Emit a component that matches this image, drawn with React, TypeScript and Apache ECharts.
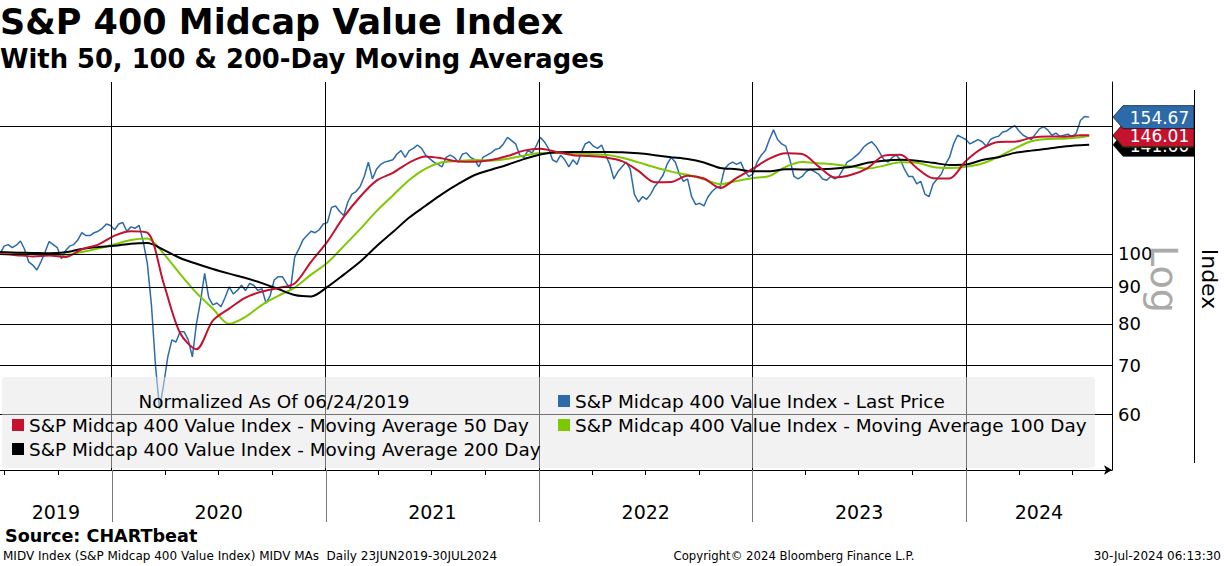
import React, { useEffect, useRef } from "react";
import * as echarts from "echarts";

const FONT = '"DejaVu Sans", Verdana, sans-serif';
const BLUE = "#2c6aa9";
const RED = "#c4122f";
const GREEN = "#7dc900";
const BLACK = "#000000";
const DAY = 86400000;

const START = Date.UTC(2019, 5, 24);
const LAST = Date.UTC(2024, 6, 30);
const AXIS_END = Date.UTC(2024, 8, 7);
const Y_MIN = 50.2;
const Y_MAX = 173;

const SERIES_NAMES = [
  "S&P Midcap 400 Value Index - Last Price",
  "S&P Midcap 400 Value Index - Moving Average 50 Day",
  "S&P Midcap 400 Value Index - Moving Average 100 Day",
  "S&P Midcap 400 Value Index - Moving Average 200 Day",
];

const YEAR_LABELS = ["2019", "2020", "2021", "2022", "2023", "2024"];
const Y_TICKS = [60, 70, 80, 90, 100, 150];

// weekly closes (every 7 days from 24-Jun-2019), last = 30-Jul-2024
const PRICE = [
  100, 102.5, 103, 102, 102.8, 104.2, 101.5, 97.5, 96.5, 95,
  97.5, 100.5, 104, 103, 102, 98.5, 101, 102.5, 103, 104.5,
  107, 106, 106, 107, 107.5, 108.5, 110, 109.5, 108, 110,
  110.5, 107.5, 109, 108.5, 109.5, 104, 97, 85, 70, 61,
  66, 72, 76, 75.5, 78, 78, 76, 72, 80, 86,
  94, 87, 85, 85.5, 84.5, 87, 90, 88, 89, 90.5,
  89, 91, 90.5, 89, 89.5, 85.5, 87.5, 92, 93, 93,
  91, 89.5, 99, 101.5, 104.5, 106, 107.5, 107, 108, 110,
  110.5, 116, 116.5, 114.5, 113, 118, 121, 122, 124, 128,
  134, 127, 131, 133, 134, 134.5, 135, 137.5, 139, 136,
  139, 140, 141.5, 140, 137, 135.5, 134, 133, 132, 136,
  137, 136, 134, 137.5, 138, 136, 135, 132, 136, 137,
  138, 139.5, 140, 142, 145, 143.5, 142, 137, 136, 139,
  138, 141, 145, 143, 140, 135, 134, 137, 135, 132,
  135, 133, 138, 142, 143, 141, 140, 141.5, 137, 133,
  127, 130, 132, 134, 131, 121, 118, 120, 119, 121,
  124, 126, 128.5, 133, 136, 134, 129, 126, 127, 120,
  117, 117.5, 116.5, 120, 122, 123.5, 124, 131, 133, 134,
  133, 134, 130, 128, 129, 134, 137, 139, 144, 148.5,
  144, 142, 141, 135, 128, 127, 128, 130, 131, 130,
  129, 127, 126.5, 128, 127, 128, 131, 134, 135, 136.5,
  138, 140.5, 142, 143, 141, 138, 135, 134, 136, 137,
  135, 131, 128, 128, 125, 126, 121, 120, 125, 127,
  129, 133, 136, 142, 146, 145, 144, 142, 143, 144,
  143, 141, 144, 145, 145.5, 147.5, 148, 149.5, 150.5, 148,
  146, 145, 144, 146.5, 149, 150, 148.5, 146, 147, 145.5,
  146, 146.5, 145, 147, 153, 155, 154.67,
];

// moving averages sampled every 28 days from 24-Jun-2019, last = 30-Jul-2024
const MA50 = [
  100, 99.6, 99.2, 99.5, 99, 101.5, 103, 106, 107.5, 107,
  91, 77.7, 73.8, 80.8, 84, 87, 88.7, 89.7, 91, 97.5,
  104, 112.5, 120, 126.3, 129.5, 133.8, 136.4, 135.6, 134.3, 134.2,
  134.9, 136.6, 139, 139.8, 138.4, 137, 136.6, 136, 134.4, 130.3,
  125.7, 125.8, 128.3, 127.2, 123.4, 127.4, 131.2, 135.5, 137.8, 137.5,
  132.2, 127.6, 128.7, 131.5, 136.8, 137.2, 131.5, 127.3, 127.2, 134.5,
  140, 142.9, 143, 144.8, 145.4, 145.3, 146, 146.01,
];
const MA100 = [
  100.5, 100.4, 100.2, 99.7, 99.7, 100.6, 101.7, 103.1, 104.5, 105,
  100, 93.8, 88.3, 84, 80, 81.8, 85, 87.5, 89.8, 93.6,
  97.2, 102.5, 108.2, 114.6, 120.5, 126.6, 131.2, 133.9, 134.5, 134.9,
  134.6, 135.4, 136.8, 138, 138, 137.7, 137.5, 137.2, 135.9, 133.9,
  131.8, 130, 128.7, 126.9, 124.9, 126.2, 127.4, 128.2, 132, 134,
  133.5, 133, 132.1, 131.3, 132.5, 133.9, 133.7, 131.9, 131.5, 132,
  133.4, 136.3, 140, 143.2, 144.3, 144.4, 145.1, 145.6,
];
const MA200 = [
  100.6, 100.4, 100.3, 100.2, 100.5, 101.6, 102.2, 102.6, 103.3, 103.5,
  101.3, 98.7, 96.9, 95.3, 93.9, 92.6, 91.1, 89.4, 87.7, 87.3,
  90, 93.6, 97.5, 102.5, 107.2, 112.3, 116.6, 121, 125, 128.6,
  130.8, 132.9, 135.3, 137.3, 138.3, 138.4, 138.4, 138.4, 138.3, 137.8,
  137, 136.1, 135.3, 133.8, 131.5, 131, 130.1, 130.1, 131, 130.9,
  131, 131.3, 132, 133.7, 134.6, 135, 134.6, 133.7, 132.8, 133,
  134.9, 136.1, 138, 139, 139.8, 140.8, 141.4, 141.6,
];

const weekDate = (k: number) => (k === PRICE.length - 1 ? LAST : START + 7 * k * DAY);
const maDate = (i: number, n: number) => (i === n - 1 ? LAST : START + 28 * i * DAY);

const YEAR_STARTS = [2020, 2021, 2022, 2023, 2024].map((y) => Date.UTC(y, 0, 1));
const QUARTERS: number[] = [];
for (let y = 2019; y <= 2024; y++) {
  for (const m of [3, 6, 9]) {
    const t = Date.UTC(y, m, 1);
    if (t > START && t < AXIS_END) QUARTERS.push(t);
  }
}

function baseOption(): any {
  const lineCommon = {
    type: "line",
    showSymbol: false,
    symbol: "none",
    silent: true,
  };
  return {
    animation: false,
    backgroundColor: "#ffffff",
    grid: { left: 0, right: 112, top: 82, bottom: 96, containLabel: false },
    xAxis: {
      type: "time",
      min: START,
      max: AXIS_END,
      axisLine: {
        show: true,
        lineStyle: { color: "#000", width: 1 },
        symbol: ["none", "arrow"],
        symbolSize: [7, 8],
      },
      axisTick: { show: false },
      axisLabel: { show: false },
      splitLine: { show: false },
    },
    yAxis: {
      type: "log",
      logBase: 10,
      min: Y_MIN,
      max: Y_MAX,
      position: "right",
      axisLine: { show: true, lineStyle: { color: "#000", width: 1 } },
      axisTick: { show: false },
      axisLabel: { show: false },
      splitLine: { show: false },
    },
    legend: [
      { data: [SERIES_NAMES[0]], left: 558, top: 391 },
      { data: [SERIES_NAMES[1]], left: 12, top: 415 },
      { data: [SERIES_NAMES[2]], left: 558, top: 415 },
      { data: [SERIES_NAMES[3]], left: 12, top: 439 },
    ].map((l) => ({
      ...l,
      orient: "horizontal",
      padding: 0,
      itemWidth: 12,
      itemHeight: 12,
      icon: "rect",
      selectedMode: false,
      z: 20,
      textStyle: { fontFamily: FONT, fontSize: 18.4, color: "#000", lineHeight: 20 },
    })),
    series: [
      {
        ...lineCommon,
        name: SERIES_NAMES[0],
        color: BLUE,
        z: 2,
        lineStyle: { color: BLUE, width: 1.5 },
        data: PRICE.map((v, k) => [weekDate(k), v]),
        markLine: {
          silent: true,
          animation: false,
          symbol: ["none", "arrow"],
          symbolSize: [0, 8],
          lineStyle: { color: "#000", width: 1, type: "solid" },
          label: {
            show: true,
            position: "end",
            formatter: "{c}",
            color: "#000",
            fontFamily: FONT,
            fontSize: 18,
            distance: 6,
          },
          emphasis: { disabled: true },
          data: Y_TICKS.map((v) => ({ yAxis: v, label: { show: v !== 150 } })),
        },
      },
      {
        ...lineCommon,
        name: SERIES_NAMES[1],
        color: RED,
        z: 4,
        smooth: 0.3,
        lineStyle: { color: RED, width: 2 },
        data: MA50.map((v, i) => [maDate(i, MA50.length), v]),
      },
      {
        ...lineCommon,
        name: SERIES_NAMES[2],
        color: GREEN,
        z: 3,
        smooth: 0.3,
        lineStyle: { color: GREEN, width: 2 },
        data: MA100.map((v, i) => [maDate(i, MA100.length), v]),
      },
      {
        ...lineCommon,
        name: SERIES_NAMES[3],
        color: BLACK,
        z: 3,
        smooth: 0.3,
        lineStyle: { color: BLACK, width: 2 },
        data: MA200.map((v, i) => [maDate(i, MA200.length), v]),
        markLine: {
          silent: true,
          animation: false,
          symbol: "none",
          lineStyle: { color: "#000", width: 1, type: "solid" },
          label: { show: false },
          emphasis: { disabled: true },
          data: YEAR_STARTS.map((t) => ({ xAxis: t })),
        },
      },
    ],
  };
}

function txt(text: string, x: number, y: number, size: number, opts: any = {}): any {
  const align = opts.align || "left";
  return {
    type: "text",
    x: opts.gx || 0,
    y: opts.gy || 0,
    rotation: opts.rotation || 0,
    z: opts.z || 30,
    silent: true,
    style: {
      text,
      x,
      y,
      fill: opts.fill || "#000",
      fontFamily: FONT,
      fontSize: size,
      fontWeight: opts.bold ? "bold" : "normal",
      align,
      textAlign: align,
      verticalAlign: "middle",
      textVerticalAlign: "middle",
    },
  };
}

function buildGraphic(chart: any): any[] {
  const px = (t: number) => chart.convertToPixel({ xAxisIndex: 0 }, t) as number;
  const py = (v: number) => chart.convertToPixel({ yAxisIndex: 0 }, v) as number;
  const crisp = (v: number) => Math.round(v) + 0.5;
  const xR = px(AXIS_END);
  const yB = py(Y_MIN);
  const els: any[] = [];

  // titles
  els.push(txt("S&P 400 Midcap Value Index", 0, 22, 35, { bold: true }));
  els.push(txt("With 50, 100 & 200-Day Moving Averages", 0, 59, 25.8, { bold: true }));

  // legend box
  els.push({
    type: "rect",
    z: 10,
    silent: true,
    shape: { x: 2, y: 377, width: 1093, height: 91, r: 3 },
    style: { fill: "rgba(229,229,229,0.5)" },
  });
  els.push(txt("Normalized As Of 06/24/2019", 274, 401, 18.4, { align: "center" }));

  // year separators and quarter ticks below the axis
  YEAR_STARTS.forEach((t) => {
    const x = crisp(px(t));
    els.push({
      type: "line",
      z: 5,
      silent: true,
      shape: { x1: x, y1: yB, x2: x, y2: yB + 52 },
      style: { stroke: "#777", lineWidth: 1 },
    });
  });
  QUARTERS.forEach((t) => {
    const x = crisp(px(t));
    els.push({
      type: "line",
      z: 5,
      silent: true,
      shape: { x1: x, y1: yB, x2: x, y2: yB + 5 },
      style: { stroke: "#000", lineWidth: 1 },
    });
  });
  const bounds = [START, ...YEAR_STARTS, AXIS_END];
  YEAR_LABELS.forEach((lab, i) => {
    const mid = (px(bounds[i]) + px(bounds[i + 1])) / 2;
    els.push(txt(lab, mid, yB + 42, 19, { align: "center" }));
  });

  // secondary right line, labels
  els.push({
    type: "line",
    z: 5,
    silent: true,
    shape: { x1: 1194.5, y1: 90, x2: 1194.5, y2: 463 },
    style: { stroke: "#000", lineWidth: 1 },
  });
  els.push(txt("Log", 0, 0, 38, { align: "center", fill: "#aaaaaa", gx: 1164, gy: 279, rotation: -Math.PI / 2, z: 6 }));
  els.push(txt("Index", 0, 0, 22, { align: "center", gx: 1209, gy: 279, rotation: -Math.PI / 2 }));

  // last-value boxes (bottom to top); the 100-day label is fully hidden in the reference
  const boxes = [
    { v: MA200[MA200.length - 1], c: BLACK, label: true },
    { v: MA100[MA100.length - 1], c: GREEN, label: false },
    { v: MA50[MA50.length - 1], c: RED, label: true },
    { v: PRICE[PRICE.length - 1], c: BLUE, label: true },
  ];
  const xa = xR + 1;
  const xb = 1194;
  const h = 11.5;
  boxes.forEach((b, i) => {
    const cy = py(b.v);
    els.push({
      type: "polygon",
      z: 40 + i * 2,
      silent: true,
      shape: {
        points: [
          [xa, cy],
          [xa + 10, cy - h],
          [xb, cy - h],
          [xb, cy + h],
          [xa + 10, cy + h],
        ],
      },
      style: { fill: b.c, stroke: "rgba(0,0,0,0.6)", lineWidth: 1 },
    });
    if (b.label) {
      els.push(txt(b.v.toFixed(2), (xa + 10 + xb) / 2 + 1, cy + 1, 17, { align: "center", fill: "#fff", z: 41 + i * 2 }));
    }
  });

  // footer
  els.push(txt("Source: CHARTbeat", 5, 536, 17.6, { bold: true }));
  els.push(txt("MIDV Index (S&P Midcap 400 Value Index) MIDV MAs  Daily 23JUN2019-30JUL2024", 3, 556, 12));
  els.push(txt("Copyright\u00a9 2024 Bloomberg Finance L.P.", 794, 556, 11.7, { align: "center" }));
  els.push(txt("30-Jul-2024 06:13:30", 1221, 556, 12, { align: "right" }));
  return els;
}

export default function App() {
  const ref = useRef<HTMLDivElement>(null);
  useEffect(() => {
    if (!ref.current) return;
    const chart = echarts.init(ref.current, null, { renderer: "svg", width: 1224, height: 566 });
    chart.setOption(baseOption());
    chart.setOption({ graphic: { elements: buildGraphic(chart) } });
    return () => chart.dispose();
  }, []);
  return (
    <div
      ref={ref}
      style={{ position: "fixed", left: 0, top: 0, width: 1224, height: 566, background: "#fff" }}
    />
  );
}
